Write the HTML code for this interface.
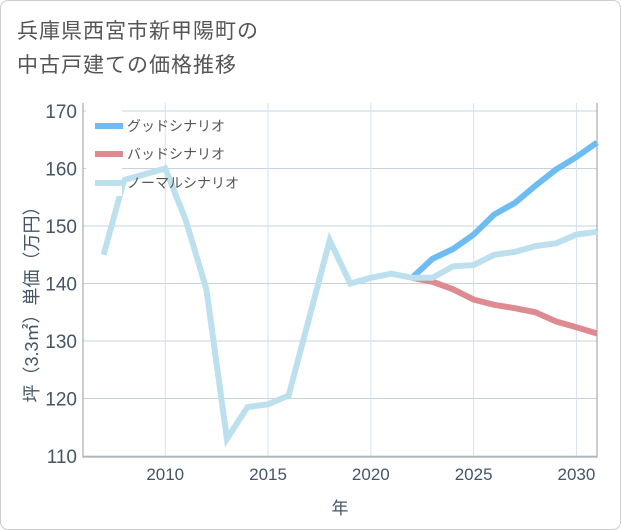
<!DOCTYPE html>
<html><head><meta charset="utf-8"><style>
body{margin:0;background:#fff;font-family:"Liberation Sans","Noto Sans CJK JP",sans-serif;}
#wrap{position:relative;width:619px;height:528px;border:1px solid #ccc;border-radius:8px;overflow:hidden;background:#fff}
#title{position:absolute;left:16px;top:14px;font-size:21px;line-height:34px;color:#555;letter-spacing:1px}
</style></head><body>
<div id="wrap">
<div id="title">兵庫県西宮市新甲陽町の<br>中古戸建ての価格推移</div>
<svg id="chart" width="621" height="530" style="position:absolute;left:-1px;top:-1px"></svg>
</div>
<script>
const years=[2007,2008,2009,2010,2011,2012,2013,2014,2015,2016,2017,2018,2019,2020,2021,2022,2023,2024,2025,2026,2027,2028,2029,2030,2031];
const normalVals=[145,158,159,160,151,139,113,118.5,119,120.5,134,147.5,140,141,141.7,141,141,143,143.2,145,145.5,146.5,147,148.5,149];
const goodYears=[2022,2023,2024,2025,2026,2027,2028,2029,2030,2031];
const goodVals=[141,144.3,146,148.5,152,154,157,159.8,162,164.5];
const badVals=[141,140.3,139,137.2,136.3,135.7,135,133.4,132.4,131.3];
const yTicks=[110,120,130,140,150,160,170];
const xTicks=[2010,2015,2020,2025,2030];
const X0=83,X1=597,Y0=456,Y1=111;
const xs=v=>X0+(v-2006)/(2031-2006)*(X1-X0);
const ys=v=>Y0-(v-110)/(170-110)*(Y0-Y1);
const svg=document.getElementById('chart');
const NS='http://www.w3.org/2000/svg';
function mk(t,a){const e=document.createElementNS(NS,t);for(const k in a)e.setAttribute(k,a[k]);svg.appendChild(e);return e;}
yTicks.forEach(t=>{
 const l=mk('line',{x1:X0,x2:X1,y1:ys(t),y2:ys(t),stroke:'#c5d3e0','stroke-width':1});
 
 
 const tx=mk('text',{x:X0-6,y:ys(t)+7,'text-anchor':'end','font-size':19,fill:'#445566'});
 tx.textContent=t;
 
 
});
xTicks.forEach(t=>{
 const l=mk('line',{x1:xs(t),x2:xs(t),y1:103,y2:Y0,stroke:'#d3e2ee','stroke-width':1});
 
 
 const tx=mk('text',{x:xs(t),y:480,'text-anchor':'middle','font-size':17,fill:'#445566'});
 tx.textContent=t;
 
 
});
const ax=mk('path',{d:`M${X0},103 V${Y0+1} H${X1} V103`,fill:'none',stroke:'#999','stroke-width':1});


function line(xv,yv,color,name){
 const d=xv.map((x,i)=>(i?'L':'M')+xs(x).toFixed(1)+','+ys(yv[i]).toFixed(1)).join(' ');
 const p=mk('path',{d:d,fill:'none',stroke:color,'stroke-width':6,'stroke-linejoin':'miter'});
 
 
}
line(goodYears,goodVals,'#6dbdf2','good-scenario-line');
line(goodYears,badVals,'#de8a91','bad-scenario-line');
line(years,normalVals,'#bde0ee','normal-scenario-line');
const lb=mk('rect',{x:86,y:106,width:36,height:90,fill:'#fff'});


[['グッドシナリオ','#6dbdf2',126],['バッドシナリオ','#de8a91',154],['ノーマルシナリオ','#bde0ee',183]].forEach(([t,c,y])=>{
 const s=mk('line',{x1:95,x2:123,y1:y,y2:y,stroke:c,'stroke-width':6});
 
 
 const tx=mk('text',{x:127,y:y+5,'font-size':14,fill:'#555'});
 tx.textContent=t;
 
 
});
const yl=mk('text',{x:0,y:0,'font-size':18,fill:'#445566','text-anchor':'middle',transform:'translate(38,300) rotate(-90)'});
yl.textContent='坪（3.3㎡）単価（万円）';


const xl=mk('text',{x:340,y:514,'font-size':17,fill:'#445566','text-anchor':'middle'});
xl.textContent='年';


</script>
</body></html>
